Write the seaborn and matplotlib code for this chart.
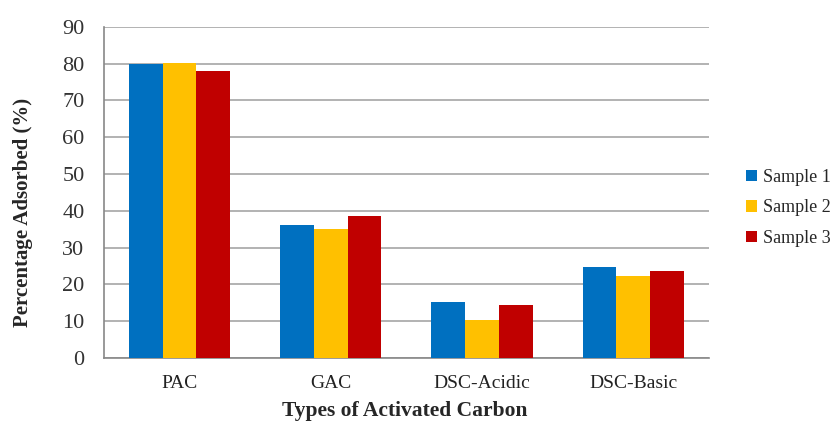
import matplotlib
matplotlib.use("Agg")
import matplotlib.pyplot as plt
import seaborn as sns
import pandas as pd
import numpy as np

categories = ["PAC", "GAC", "DSC-Acidic", "DSC-Basic"]
sample1 = [80.0, 36.2, 15.3, 24.6]
sample2 = [80.2, 35.1, 10.4, 22.2]
sample3 = [78.0, 38.6, 14.3, 23.7]
series_names = ["Sample 1", "Sample 2", "Sample 3"]
colors = ["#0070C0", "#FFC000", "#C00000"]
y_ticks = [0, 10, 20, 30, 40, 50, 60, 70, 80, 90]

rows = []
for name, vals in zip(series_names, [sample1, sample2, sample3]):
    for c, v in zip(categories, vals):
        rows.append({"Category": c, "Series": name, "Value": v})
df = pd.DataFrame(rows)

sns.set_theme(style="white")
plt.rcParams["font.family"] = ["Liberation Serif", "DejaVu Serif"]

fig = plt.figure(figsize=(8.32, 4.21), dpi=100)
ax = fig.add_axes([0.125, 0.150, 0.727, 0.786])

sns.barplot(data=df, x="Category", y="Value", hue="Series", order=categories,
            hue_order=series_names, palette=colors, width=0.67,
            saturation=1, ax=ax, errorbar=None, zorder=3, linewidth=0)

ax.set_ylim(0, 90)
ax.set_xlim(-0.5, len(categories) - 0.5)
ax.set_yticks(y_ticks)
ax.set_yticklabels([str(t) for t in y_ticks], fontsize=16, color="#333333")
ax.tick_params(axis="x", which="major", length=0, labelsize=14, pad=12, colors="#222222")
ax.set_xticks(np.arange(-0.5, len(categories), 1.0), minor=True)
ax.tick_params(axis="x", which="minor", length=5, width=1, color="#888888", direction="out")
ax.tick_params(axis="y", length=5, width=1, color="#888888", direction="out", pad=9)
ax.yaxis.grid(True, color="#A6A6A6", linewidth=1.2, zorder=0)
ax.set_axisbelow(True)
for s in ["top", "right"]:
    ax.spines[s].set_visible(False)
for s in ["left", "bottom"]:
    ax.spines[s].set_color("#888888")
    ax.spines[s].set_linewidth(1.2)

ax.set_xlabel("Types of Activated Carbon", fontsize=15.5, fontweight="bold")
ax.set_ylabel("Percentage Adsorbed (%)", fontsize=15, fontweight="bold")
ax.xaxis.set_label_coords(0.497, -0.130)
ax.yaxis.set_label_coords(-0.117, 0.44)

handles, labels = ax.get_legend_handles_labels()
leg = fig.legend(handles, labels, loc="center left", bbox_to_anchor=(0.897, 0.506),
                 frameon=False, fontsize=13, handlelength=0.6, handleheight=0.6,
                 handletextpad=0.35, labelspacing=0.75, borderpad=0, borderaxespad=0)
ax.get_legend().remove()

fig.savefig("out.png", dpi=100)
